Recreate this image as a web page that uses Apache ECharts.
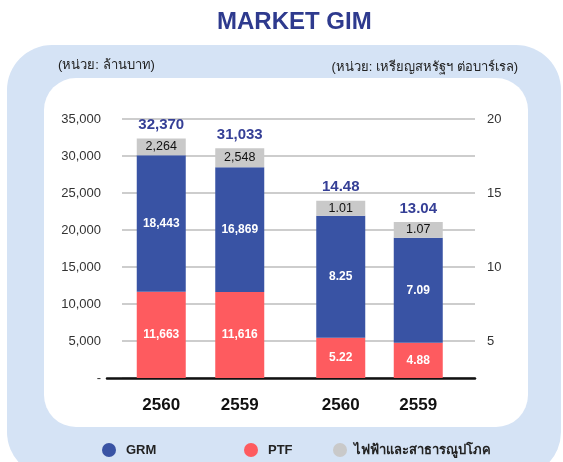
<!DOCTYPE html>
<html>
<head>
<meta charset="utf-8">
<script src="https://cdn.jsdelivr.net/npm/echarts@6/dist/echarts.min.js"></script>
<style>
html, body { margin: 0; padding: 0; background: #fff; }
#chart { width: 563px; height: 462px; }
</style>
</head>
<body>
<div id="chart"></div>
<script>
var years = ['2560', '2559'];

// ล้านบาท (left axis)
var ptfBaht = [11663, 11616];
var grmBaht = [18443, 16869];
var utilBaht = [2264, 2548];
var totalBaht = [32370, 31033];

// เหรียญสหรัฐฯ ต่อบาร์เรล (right axis)
var ptfUsd = [5.22, 4.88];
var grmUsd = [8.25, 7.09];
var utilUsd = [1.01, 1.07];
var totalUsd = [14.48, 13.04];

var NAME_GRM = 'GRM', NAME_PTF = 'PTF', NAME_UTIL = 'ไฟฟ้าและสาธารณูปโภค';
var FONT = '"Liberation Sans", Arial, "Noto Sans", "DejaVu Sans", sans-serif';

var fmtBaht = function (v) { return Number(v).toLocaleString('en-US'); };
var fmtUsd = function (v) { return Number(v).toFixed(2); };

function stack(xi, yi, key, ptf, grm, util, total, fmt) {
    var base = { type: 'bar', stack: key, xAxisIndex: xi, yAxisIndex: yi, barWidth: 49, clip: true };
    var inner = { show: true, position: 'inside', color: '#fff', fontWeight: 'bold', fontSize: 12, fontFamily: FONT,
        formatter: function (p) { return fmt(p.value); } };
    return [
        Object.assign({}, base, { name: NAME_PTF, data: ptf, itemStyle: { color: '#fe5b5f' }, label: inner }),
        Object.assign({}, base, { name: NAME_GRM, data: grm, itemStyle: { color: '#3953a4' }, label: inner }),
        Object.assign({}, base, { name: NAME_UTIL, data: util, itemStyle: { color: '#c9c9c9' },
            label: { show: true, position: 'inside', color: '#111', fontSize: 12.5, fontFamily: FONT,
                formatter: function (p) { return fmt(p.value); } } }),
        // total label sitting on top of each stack
        Object.assign({}, base, { name: 'total', data: total.map(function () { return 0; }), itemStyle: { color: 'transparent' },
            label: { show: true, position: 'top', distance: 6, color: '#353f96', fontWeight: 'bold', fontSize: 15, fontFamily: FONT,
                formatter: function (p) { return fmt(total[p.dataIndex]); } } })
    ];
}

var yearAxis = function (gi) {
    return {
        gridIndex: gi, type: 'category', data: years,
        axisLine: { show: false }, axisTick: { show: false },
        axisLabel: { margin: 19, fontSize: 17, fontWeight: 'bold', color: '#111', fontFamily: FONT }
    };
};

function legendAt(name, left, gap) {
    return {
        data: [name], left: left, top: 438, icon: 'circle', itemWidth: 14, itemHeight: 14,
        textStyle: { fontSize: 13, fontWeight: 'bold', color: '#222', fontFamily: FONT, padding: [0, 0, 0, gap] }
    };
}

var option = {
    animation: false,
    graphic: [
        { type: 'rect', z: -10, silent: true, shape: { x: 7, y: 45, width: 554, height: 432, r: 45 }, style: { fill: '#d5e3f5' } },
        { type: 'rect', z: -9, silent: true, shape: { x: 44, y: 78, width: 484, height: 349, r: 32 }, style: { fill: '#fff' } }
    ],
    title: [
        { text: 'MARKET GIM', left: 212, top: 5, textStyle: { fontSize: 24, fontWeight: 'bold', color: '#2e3a8e', fontFamily: FONT } },
        { text: '(หน่วย: ล้านบาท)', left: 53, top: 54, textStyle: { fontSize: 13, fontWeight: 'normal', color: '#222', fontFamily: FONT } },
        { text: '(หน่วย: เหรียญสหรัฐฯ ต่อบาร์เรล)', right: 40, top: 56, textStyle: { fontSize: 13, fontWeight: 'normal', color: '#222', fontFamily: FONT } }
    ],
    legend: [
        legendAt(NAME_GRM, 97, 5),
        legendAt(NAME_PTF, 239, 5),
        legendAt(NAME_UTIL, 328, 2)
    ],
    grid: [
        { left: 122, right: 88, top: 119, bottom: 84 },
        { left: 122, width: 157, top: 119, bottom: 84 },
        { left: 302, width: 155, top: 119, bottom: 84 },
        { left: 107, right: 88, top: 119, bottom: 84 }
    ],
    xAxis: [
        { gridIndex: 0, type: 'category', data: [''], show: false },
        yearAxis(1),
        yearAxis(2),
        { gridIndex: 3, type: 'category', data: [''], axisLine: { show: true, lineStyle: { color: '#111', width: 2.5 } },
          axisTick: { show: false }, axisLabel: { show: false } }
    ],
    yAxis: [
        { gridIndex: 0, type: 'value', position: 'left', min: 0, max: 35000, interval: 5000,
          axisLine: { show: false }, axisTick: { show: false },
          axisLabel: { margin: 21, fontSize: 13, color: '#333', fontFamily: FONT,
              formatter: function (v) { return v === 0 ? '-' : fmtBaht(v); } },
          splitLine: { lineStyle: { color: '#bdbdbd', width: 1.5 } } },
        { gridIndex: 0, type: 'value', position: 'right', min: 2.5, max: 20, interval: 2.5,
          axisLine: { show: false }, axisTick: { show: false }, splitLine: { show: false },
          axisLabel: { margin: 12, fontSize: 13, color: '#333', fontFamily: FONT,
              formatter: function (v) { return v % 5 === 0 ? String(v) : ''; } } },
        { gridIndex: 1, type: 'value', min: 0, max: 35000, show: false },
        { gridIndex: 2, type: 'value', min: 2.5, max: 20, show: false },
        { gridIndex: 3, type: 'value', show: false }
    ],
    series: [].concat(
        stack(1, 2, 'baht', ptfBaht, grmBaht, utilBaht, totalBaht, fmtBaht),
        stack(2, 3, 'usd', ptfUsd, grmUsd, utilUsd, totalUsd, fmtUsd)
    )
};

var myChart = echarts.init(document.getElementById('chart'));
myChart.setOption(option);
</script>
</body>
</html>
